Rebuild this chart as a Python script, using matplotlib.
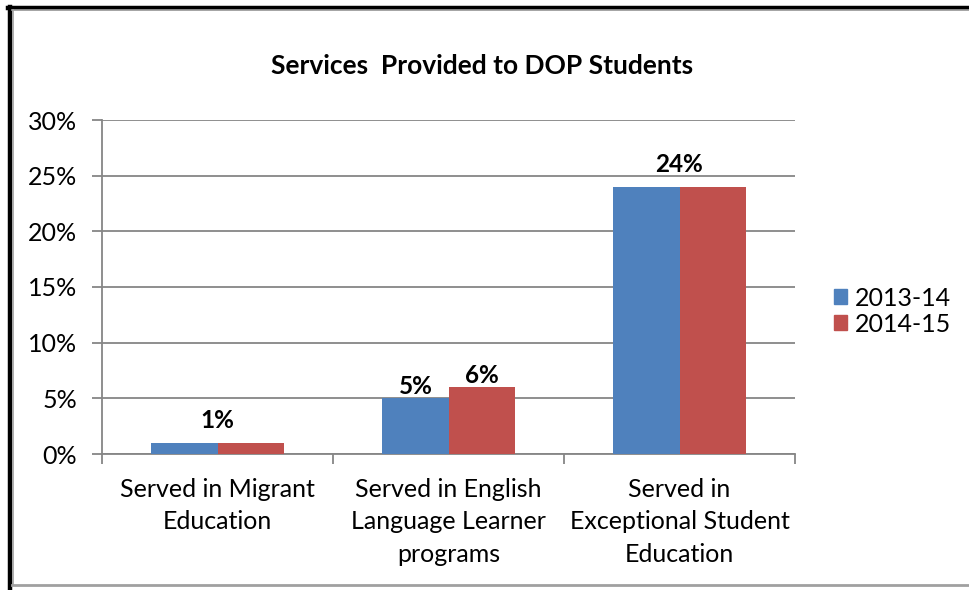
import matplotlib
matplotlib.use("Agg")
import matplotlib.pyplot as plt
from matplotlib.lines import Line2D
from matplotlib.patches import Patch
import numpy as np

categories = ["Served in Migrant\nEducation",
              "Served in English\nLanguage Learner\nprograms",
              "Served in\nExceptional Student\nEducation"]
series_names = ["2013-14", "2014-15"]
values_2013 = [1, 5, 24]
values_2014 = [1, 6, 24]
y_ticks = [0, 5, 10, 15, 20, 25, 30]
title = "Services  Provided to DOP Students"

colors = ["#4F81BD", "#C0504D"]
grid_c = "#868686"

plt.rcParams['font.family'] = ['Lato', 'DejaVu Sans']

W, H = 969, 590
fig = plt.figure(figsize=(W / 100, H / 100), dpi=100)

def fx(px):
    return px / W

def fy(py):
    return 1 - py / H

ax = fig.add_axes([fx(102), fy(454), fx(795) - fx(102), fy(120) - fy(454)])

x = np.arange(len(categories))
bw = 0.286
ax.bar(x - bw / 2, values_2013, bw, color=colors[0], zorder=3, label=series_names[0])
ax.bar(x + bw / 2, values_2014, bw, color=colors[1], zorder=3, label=series_names[1])

for i, (a, b) in enumerate(zip(values_2013, values_2014)):
    if a == b:
        ax.text(x[i], a + 1.0, f"{a}%", ha="center", va="bottom",
                fontsize=17.5, fontweight="bold")
    else:
        ax.text(x[i] - bw / 2, a + 0.05, f"{a}%", ha="center", va="bottom",
                fontsize=17.5, fontweight="bold")
        ax.text(x[i] + bw / 2, b + 0.05, f"{b}%", ha="center", va="bottom",
                fontsize=17.5, fontweight="bold")

ax.set_xlim(-0.5, len(categories) - 0.5)
ax.set_ylim(0, 30)
ax.set_yticks(y_ticks)
ax.set_yticklabels([f"{t}%" for t in y_ticks], fontsize=18)
ax.yaxis.grid(True, color=grid_c, linewidth=1.3, zorder=0)
ax.set_axisbelow(True)

ax.set_xticks(np.arange(len(categories) + 1) - 0.5, minor=False)
ax.set_xticklabels([""] * (len(categories) + 1))
ax.set_xticks(x, minor=True)
ax.set_xticklabels(categories, minor=True, fontsize=18, linespacing=1.52)
ax.tick_params(axis="x", which="minor", length=0, pad=17)
ax.tick_params(axis="x", which="major", length=7, color=grid_c, width=1.3, direction="out")
ax.tick_params(axis="y", length=7, color=grid_c, width=1.3, direction="out", pad=11)

for s in ["top", "right"]:
    ax.spines[s].set_visible(False)
for s in ["left", "bottom"]:
    ax.spines[s].set_color(grid_c)
    ax.spines[s].set_linewidth(1.3)

fig.text(fx(482), fy(66), title, ha="center", va="center", fontsize=19, fontweight="bold")

handles = [Patch(color=colors[0]), Patch(color=colors[1])]
fig.legend(handles, series_names, loc="center left", bbox_to_anchor=(fx(834), fy(311)),
           frameon=False, fontsize=18, handlelength=0.52, handleheight=0.52,
           handletextpad=0.3, labelspacing=0.12, borderaxespad=0, borderpad=0)

# outer border
fig.add_artist(Line2D([fx(9.5), fx(9.5)], [fy(7), fy(590)], color="black", lw=3.2))
fig.add_artist(Line2D([fx(8), fx(969)], [fy(7.5), fy(7.5)], color="black", lw=3.2))
fig.add_artist(Line2D([fx(12.5), fx(12.5)], [fy(10), fy(585)], color="#A0A0A0", lw=1.2))
fig.add_artist(Line2D([fx(12), fx(969)], [fy(10), fy(10)], color="#A0A0A0", lw=1.2))
fig.add_artist(Line2D([fx(12), fx(969)], [fy(585), fy(585)], color="#A0A0A0", lw=2))

fig.savefig("out.png", dpi=100)
